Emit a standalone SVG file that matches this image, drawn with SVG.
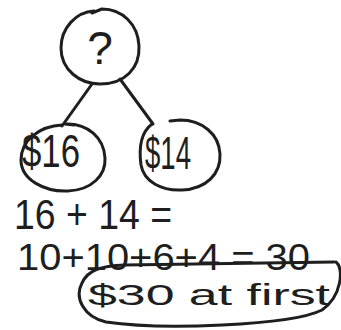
<svg xmlns="http://www.w3.org/2000/svg" width="341" height="330" viewBox="0 0 341 330">
<style>
.ink{fill:none;stroke:#1e1e1e;stroke-width:3;stroke-linecap:round;stroke-linejoin:round}
.t{font-family:"Liberation Sans",Arial,sans-serif;fill:#1e1e1e}
</style>
<rect width="341" height="330" fill="#ffffff"/>
<g id="connectors">
<path class="ink" d="M92 84 L62 126"/>
<path class="ink" d="M120 79 L153 124"/>
</g>
<g id="node-top">
<path class="ink" d="M94 11 C 76 12, 61 28, 61 48 C 61 70, 80 84, 100 84 C 125 84, 140 68, 139 46 C 138 24, 122 9, 102 9 L 92 13"/>
<text class="t" x="100" y="64" font-size="46" text-anchor="middle">?</text>
</g>
<g id="node-16">
<path class="ink" d="M62 125 C 40 126, 21 140, 21 160 C 21 180, 45 192, 68 191 C 92 190, 106 175, 105 158 C 104 138, 88 123, 65 124 L 74 125"/>
<text class="t" x="22" y="167" font-size="46" textLength="58" lengthAdjust="spacingAndGlyphs">$16</text>
</g>
<g id="node-14">
<path class="ink" d="M152 124 C 140 133, 139 150, 141 165 C 144 182, 162 191, 182 190 C 206 189, 221 174, 220 154 C 219 134, 202 120, 180 120 L 170 121"/>
<text class="t" x="145" y="169" font-size="47" textLength="46" lengthAdjust="spacingAndGlyphs">$14</text>
</g>
<g id="equations">
<text class="t" x="14" y="229" font-size="42" textLength="158" lengthAdjust="spacingAndGlyphs">16 + 14 =</text>
<text class="t" x="17" y="270" font-size="36" textLength="293" lengthAdjust="spacingAndGlyphs">10+10+6+4 = 30</text>
</g>
<g id="node-answer">
<path class="ink" d="M336 262 C 344 268, 342 296, 322 310 C 290 326, 160 330, 106 322 C 84 317, 74 298, 82 283 C 88 270, 100 266, 125 265 L 334 262"/>
<text class="t" x="88" y="305" font-size="30" textLength="242" lengthAdjust="spacingAndGlyphs">$30 at first</text>
</g>
</svg>
